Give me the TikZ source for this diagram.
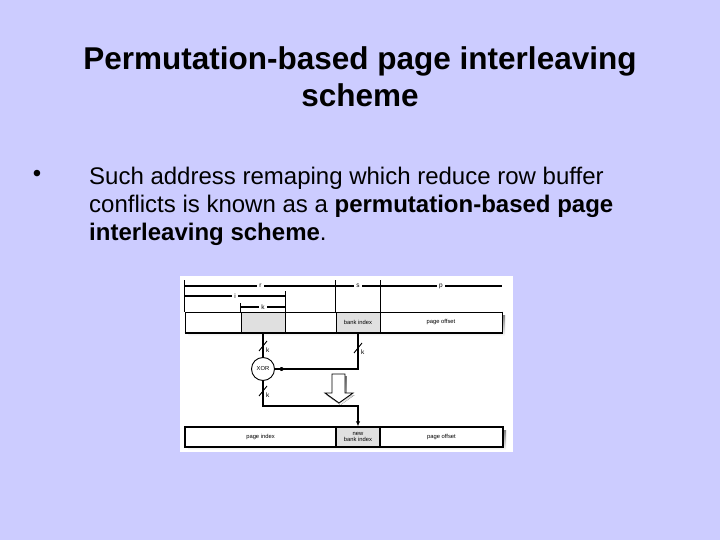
\documentclass[tikz,border=0pt]{standalone}
\usepackage{fontspec}
\setmainfont{Liberation Sans}
\usetikzlibrary{arrows.meta}
\definecolor{slidebg}{RGB}{204,204,255}
\definecolor{cellgray}{gray}{0.88}
\definecolor{shade}{gray}{0.55}

\begin{document}
\begin{tikzpicture}[x=1pt, y=-1pt,
  title/.style={font=\fontsize{31.5}{37}\selectfont\bfseries, align=center},
  body/.style={font=\fontsize{24}{28}\selectfont, align=left, anchor=north west, inner sep=0pt},
  cell/.style={draw, fill=white, line width=0.7pt, inner sep=0pt, font=\fontsize{5.8}{6.3}\selectfont, align=center},
  graycell/.style={cell, fill=cellgray},
  dim/.style={{Square[length=2.8pt,width=2.8pt]}-{Square[length=2.8pt,width=2.8pt]}, line width=1.1pt},
  lbl/.style={fill=white, inner sep=2pt, font=\fontsize{6.5}{7}\selectfont},
  wire/.style={line width=1.4pt},
  jdot/.style={circle, fill, inner sep=0pt, minimum size=4pt},
  xorgate/.style={circle, draw, line width=0.9pt, fill=white, minimum size=23pt, inner sep=0pt, font=\fontsize{5.8}{6}\selectfont},
  bus/.pic={\draw[line width=0.9pt] (-4,5) -- (4,-5);
    \node[anchor=west, inner sep=0pt, font=\fontsize{6.5}{7}\selectfont] at (3,4) {k};}
]
\useasboundingbox (0,0) rectangle (720,540);
\fill[slidebg] (0,0) rectangle (720,540);

% slide text
\node[title] (ttl) at (360,77) {Permutation-based page interleaving\\scheme};
\node[font=\fontsize{24}{28}\selectfont] (dot) at (37,176) {\textbullet};
\node[body] (txt) at (89,167) {Such address remaping which reduce row buffer\\
  conflicts is known as a \textbf{permutation-based page}\\
  \textbf{interleaving scheme}.};

% figure panel
\fill[white] (180,276) rectangle (513,452);

% original address
\fill[shade] (188,315) rectangle (505,336);
\node[cell, minimum width=56pt, minimum height=21pt] (hi) at (213,322.5) {};
\node[graycell, minimum width=44pt, minimum height=21pt] (kb) at (263,322.5) {};
\node[cell, minimum width=51pt, minimum height=21pt] (mid) at (310.5,322.5) {};
\node[graycell, minimum width=44pt, minimum height=21pt] (bank) at (358,322.5) {bank index};
\node[cell, minimum width=122pt, minimum height=21pt] (off) at (441,322.5) {page offset};
\draw[line width=2pt] (hi.south west) -- (off.south east);
\draw[line width=1.3pt] (off.north east) -- (off.south east);

% field widths
\draw[line width=0.7pt] (hi.north west) -- ++(0,-32);
\draw[line width=0.7pt] (kb.north west) -- ++(0,-9);
\draw[line width=0.7pt] (kb.north east) -- ++(0,-21);
\draw[line width=1.5pt] (bank.north west) -- ++(0,-32);
\draw[line width=0.7pt] (bank.north east) -- ++(0,-32);
\coordinate (r0) at (185,286);
\coordinate (r1) at (336,286);
\coordinate (p1) at (502,286);
\coordinate (s1) at (380,286);
\coordinate (i0) at (185,296);
\coordinate (i1) at (285,296);
\coordinate (k0) at (241,307);
\coordinate (k1) at (285,307);
\draw[dim] (r0) -- node[lbl] {r} (r1);
\draw[dim] (r1) -- node[lbl] {s} (s1);
\draw[dim] (s1) -- node[lbl] {p} (p1);
\draw[dim] (i0) -- node[lbl] {i} (i1);
\draw[dim] (k0) -- node[lbl] {k} (k1);

% permutation logic
\node[xorgate] (xor) at (263,369) {XOR};
\draw[wire] (kb.south) -- (xor.north);
\draw[wire] (bank.south) |- (xor.east) node[pos=0.96, jdot] {};
\pic at (263,346) {bus};
\pic at (358,348) {bus};

\fill[shade, shift={(1.5,2)}] (332,374) -- (345,374) -- (345,393) -- (353,393) -- (339,403) -- (325,393) -- (332,393) -- cycle;
\draw[line width=0.9pt, fill=white] (332,374) -- (345,374) -- (345,393) -- (353,393) -- (339,403) -- (325,393) -- (332,393) -- cycle;

% new address
\fill[shade] (188,430) rectangle (506,450);
\node[cell, line width=1.4pt, minimum width=151pt, minimum height=20pt] (pidx) at (260.5,437) {page index};
\node[graycell, line width=1.4pt, minimum width=44pt, minimum height=20pt] (nbank) at (358,437) {new\\bank index};
\node[cell, line width=1.4pt, minimum width=123pt, minimum height=20pt] (noff) at (441.5,437) {page offset};

\coordinate (turn) at (358,406);
\draw[wire, -{Latex[length=5pt,width=4.5pt]}] (xor.south) |- (turn) -- (nbank.north);
\pic at (263,391) {bus};
\end{tikzpicture}
\end{document}
